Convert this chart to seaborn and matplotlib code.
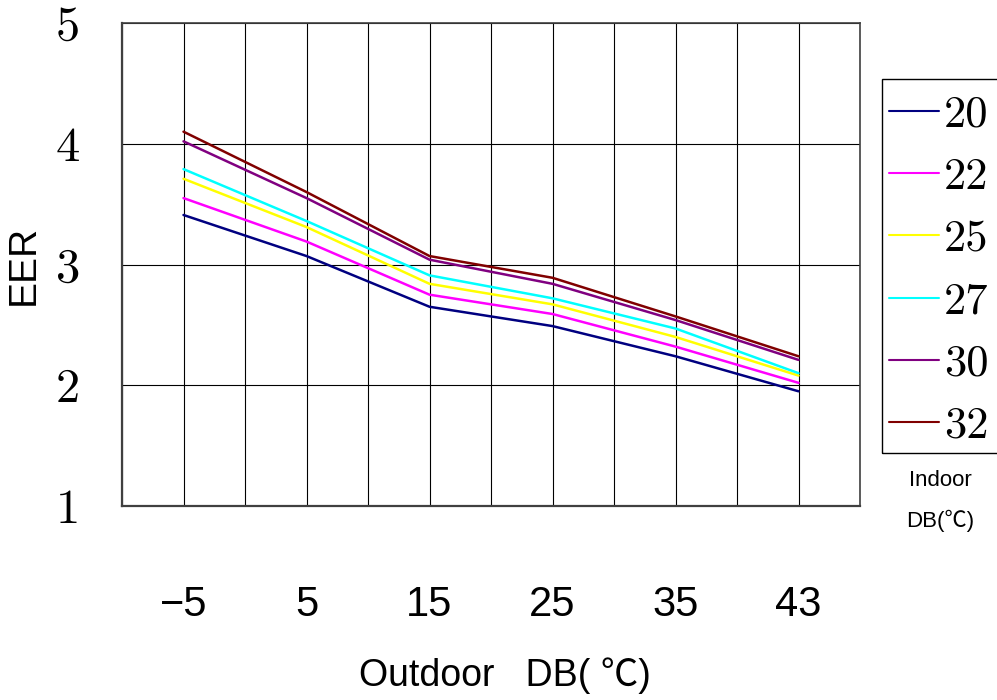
import numpy as np
import pandas as pd
import seaborn as sns
import matplotlib.pyplot as plt
from matplotlib.patches import Rectangle
from matplotlib.ticker import FixedLocator

# data
outdoor_db = ["-5", "5", "15", "25", "35", "43"]
indoor_db = ["20", "22", "25", "27", "30", "32"]
eer_20 = [3.41, 3.07, 2.65, 2.49, 2.24, 1.95]
eer_22 = [3.55, 3.19, 2.75, 2.59, 2.32, 2.02]
eer_25 = [3.71, 3.31, 2.84, 2.67, 2.40, 2.08]
eer_27 = [3.79, 3.36, 2.91, 2.72, 2.47, 2.10]
eer_30 = [4.02, 3.55, 3.04, 2.84, 2.54, 2.21]
eer_32 = [4.10, 3.60, 3.07, 2.89, 2.57, 2.24]
line_colors = ["#000080", "#FF00FF", "#FFFF00", "#00FFFF", "#800080", "#800000"]

series = [eer_20, eer_22, eer_25, eer_27, eer_30, eer_32]
rows = []
for t, vals in zip(indoor_db, series):
    for i, (o, v) in enumerate(zip(outdoor_db, vals)):
        rows.append({"pos": i, "outdoor": o, "indoor": t, "EER": v})
df = pd.DataFrame(rows)

sns.set_theme(style="white")
plt.rcParams["font.family"] = ["DejaVu Sans"]
plt.rcParams["text.color"] = "black"
plt.rcParams["xtick.color"] = "black"
plt.rcParams["ytick.color"] = "black"

SANS_NARROW = ["Liberation Sans Narrow", "Liberation Sans", "Noto Sans CJK SC"]
SANS = ["Liberation Sans", "Noto Sans CJK SC"]
SERIF = ["cmr10", "DejaVu Serif"]

fig = plt.figure(figsize=(9.97, 7.0), dpi=100)
ax = fig.add_axes([122 / 997, 1 - 506 / 700, 738 / 997, 483 / 700])

sns.lineplot(data=df, x="pos", y="EER", hue="indoor", hue_order=indoor_db,
             palette=line_colors, linewidth=1.8, ax=ax, legend=True)

ax.set_xlim(-0.5, len(outdoor_db) - 0.5)
ax.set_ylim(1, 5)

# grid every half category step, labels only on the categories
ax.xaxis.set_major_locator(FixedLocator(np.arange(len(outdoor_db))))
ax.xaxis.set_minor_locator(FixedLocator(np.arange(-0.5, len(outdoor_db), 1.0)))
ax.set_xticklabels(["\u2212" + s[1:] if s.startswith("-") else s for s in outdoor_db],
                   family=SANS_NARROW, fontsize=30, color="black")
ax.set_yticks([1, 2, 3, 4, 5])
ax.set_yticklabels(["1", "2", "3", "4", "5"], family=SERIF, fontsize=35, color="black")
ax.tick_params(axis="x", which="both", length=0, pad=57)
ax.tick_params(axis="y", length=0, pad=30)

ax.grid(True, which="both", color="black", linewidth=0.8)
for side in ["left", "bottom", "top", "right"]:
    ax.spines[side].set_color("#404040")
    ax.spines[side].set_linewidth(1.2)
ax.spines["left"].set_linewidth(1.6)
ax.spines["bottom"].set_linewidth(1.6)

ax.set_xlabel("")
ax.set_ylabel("")
fig.text(24 / 997, 1 - 265 / 700, "EER", rotation=90, ha="center", va="center",
         family=SANS, fontsize=28, color="black")
fig.text(505 / 997, 1 - 676 / 700, "Outdoor   DB( \u2103)", ha="center", va="center",
         family=SANS_NARROW, fontsize=27, color="black")

# legend entries without frame, box drawn separately (it runs off the right edge)
handles, labels = ax.get_legend_handles_labels()
leg = ax.legend(handles, labels, loc="center left",
                bbox_to_anchor=(889 / 997, 1 - 271 / 700),
                bbox_transform=fig.transFigure, borderaxespad=0, frameon=False,
                prop={"family": SERIF, "size": 32}, handlelength=1.13,
                handletextpad=0.1, labelspacing=0.5, borderpad=0)
for line in leg.get_lines():
    line.set_linewidth(1.5)
for txt in leg.get_texts():
    txt.set_color("black")
fig.add_artist(Rectangle((882 / 997, 1 - 453 / 700), 0.2, (453 - 79) / 700,
                         transform=fig.transFigure, fill=False,
                         edgecolor="black", linewidth=1.0))

fig.text(940 / 997, 1 - 480 / 700, "Indoor", ha="center", va="center",
         family=SANS, fontsize=16, color="black")
fig.text(940 / 997, 1 - 521 / 700, "DB(\u2103)", ha="center", va="center",
         family=SANS, fontsize=16, color="black")

fig.savefig("out.png", dpi=100)
